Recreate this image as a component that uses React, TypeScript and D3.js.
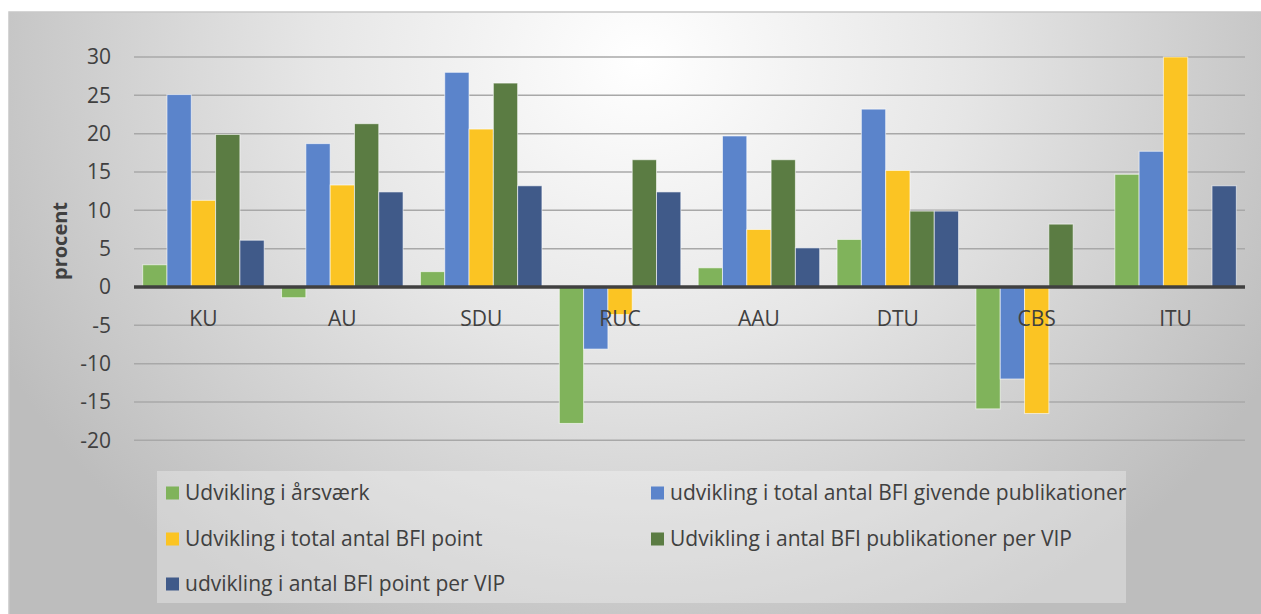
import { useEffect, useRef } from "react";
import * as d3 from "d3";

const categories = ["KU", "AU", "SDU", "RUC", "AAU", "DTU", "CBS", "ITU"];
const seriesNames = [
  "Udvikling i årsværk",
  "udvikling i total antal BFI givende publikationer",
  "Udvikling i total antal BFI point",
  "Udvikling i antal BFI publikationer per VIP",
  "udvikling i antal BFI point per VIP",
];
const aarsvaerk = [2.9, -1.4, 2.0, -17.8, 2.5, 6.2, -15.9, 14.7];
const publikationer = [25.1, 18.7, 28.0, -8.1, 19.7, 23.2, -12.0, 17.7];
const point = [11.3, 13.3, 20.6, -3.6, 7.5, 15.2, -16.5, 30.0];
const publPerVip = [19.9, 21.3, 26.6, 16.6, 16.6, 9.9, 8.2, 0];
const pointPerVip = [6.1, 12.4, 13.2, 12.4, 5.1, 9.9, 0, 13.2];
const seriesValues = [aarsvaerk, publikationer, point, publPerVip, pointPerVip];
const colors = ["#80b35b", "#5b84cb", "#fbc423", "#5b7c43", "#405a89"];
const yTicks = [-20, -15, -10, -5, 0, 5, 10, 15, 20, 25, 30];

const W = 1261;
const H = 614;
const FONT = "'Open Sans', sans-serif";

export default function App() {
  const svgRef = useRef<SVGSVGElement>(null);

  useEffect(() => {
    const svg = d3.select(svgRef.current);
    svg.selectAll("*").remove();

    const plot = { left: 134, right: 1245, top: 57, bottom: 440.3 };

    // background gradient
    const defs = svg.append("defs");
    const grad = defs
      .append("radialGradient")
      .attr("id", "bg")
      .attr("gradientUnits", "userSpaceOnUse")
      .attr("cx", 640)
      .attr("cy", 60)
      .attr("r", 720)
      .attr("gradientTransform", "translate(640,60) scale(1,0.9) translate(-640,-60)");
    grad.append("stop").attr("offset", "0").attr("stop-color", "#ffffff");
    grad.append("stop").attr("offset", "0.45").attr("stop-color", "#e6e6e6");
    grad.append("stop").attr("offset", "1").attr("stop-color", "#bdbdbd");

    svg.append("rect").attr("width", W).attr("height", H).attr("fill", "#ffffff");
    svg
      .append("rect")
      .attr("x", 9)
      .attr("y", 12)
      .attr("width", W)
      .attr("height", H)
      .attr("fill", "url(#bg)")
      .attr("stroke", "#c8c8c8")
      .attr("stroke-width", 1.5);

    const x = d3
      .scaleBand()
      .domain(categories)
      .range([plot.left, plot.right])
      .paddingInner(0.125)
      .paddingOuter(0.0625);
    const xs = d3
      .scaleBand()
      .domain(seriesNames)
      .range([0, x.bandwidth()]);
    const y = d3.scaleLinear().domain([-20, 30]).range([plot.bottom, plot.top]);

    // gridlines
    svg
      .append("g")
      .selectAll("line")
      .data(yTicks.filter((t) => t !== 0))
      .join("line")
      .attr("x1", plot.left)
      .attr("x2", plot.right)
      .attr("y1", (d) => y(d))
      .attr("y2", (d) => y(d))
      .attr("stroke", "#a8a8a8")
      .attr("stroke-width", 1.5);

    // tick labels
    svg
      .append("g")
      .selectAll("text")
      .data(yTicks)
      .join("text")
      .attr("x", 111)
      .attr("y", (d) => y(d))
      .attr("dy", "0.35em")
      .attr("text-anchor", "end")
      .attr("font-family", FONT)
      .attr("font-size", 21)
      .attr("fill", "#404040")
      .text((d) => d);

    // bars
    const groups = svg
      .append("g")
      .selectAll("g")
      .data(seriesNames)
      .join("g")
      .attr("fill", (_, i) => colors[i]);
    groups
      .selectAll("rect")
      .data((_, i) => seriesValues[i].map((v, j) => ({ v, c: categories[j], s: seriesNames[i] })))
      .join("rect")
      .filter((d) => d.v !== 0)
      .attr("x", (d) => (x(d.c) ?? 0) + (xs(d.s) ?? 0))
      .attr("width", xs.bandwidth())
      .attr("y", (d) => y(Math.max(0, d.v)))
      .attr("height", (d) => Math.abs(y(d.v) - y(0)))
      .attr("stroke", "rgba(255,255,255,0.6)")
      .attr("stroke-width", 1);

    // zero axis
    svg
      .append("line")
      .attr("x1", plot.left)
      .attr("x2", plot.right)
      .attr("y1", y(0))
      .attr("y2", y(0))
      .attr("stroke", "#404040")
      .attr("stroke-width", 3.5);

    // category labels
    svg
      .append("g")
      .selectAll("text")
      .data(categories)
      .join("text")
      .attr("x", (d) => (x(d) ?? 0) + x.bandwidth() / 2)
      .attr("y", 319)
      .attr("dy", "0.35em")
      .attr("text-anchor", "middle")
      .attr("font-family", FONT)
      .attr("font-size", 21)
      .attr("fill", "#404040")
      .text((d) => d);

    // y axis title
    svg
      .append("text")
      .attr("transform", "translate(60,241) rotate(-90)")
      .attr("dy", "0.35em")
      .attr("text-anchor", "middle")
      .attr("font-family", FONT)
      .attr("font-size", 20)
      .attr("font-weight", "bold")
      .attr("fill", "#404040")
      .text("procent");

    // legend
    svg
      .append("rect")
      .attr("x", 157)
      .attr("y", 471)
      .attr("width", 969)
      .attr("height", 132)
      .attr("fill", "rgba(255,255,255,0.3)");
    const legendPos = [
      [166, 493],
      [651, 493],
      [166, 539],
      [651, 539],
      [166, 584],
    ];
    const items = svg
      .append("g")
      .selectAll("g")
      .data(seriesNames)
      .join("g")
      .attr("transform", (_, i) => `translate(${legendPos[i][0]},${legendPos[i][1]})`);
    items
      .append("rect")
      .attr("x", 0)
      .attr("y", -6.5)
      .attr("width", 13)
      .attr("height", 13)
      .attr("fill", (_, i) => colors[i]);
    items
      .append("text")
      .attr("x", 19)
      .attr("dy", "0.35em")
      .attr("font-family", FONT)
      .attr("font-size", 21)
      .attr("fill", "#404040")
      .text((d) => d);
  }, []);

  return (
    <svg
      ref={svgRef}
      width={W}
      height={H}
      style={{ position: "absolute", left: 0, top: 0, display: "block" }}
    />
  );
}
